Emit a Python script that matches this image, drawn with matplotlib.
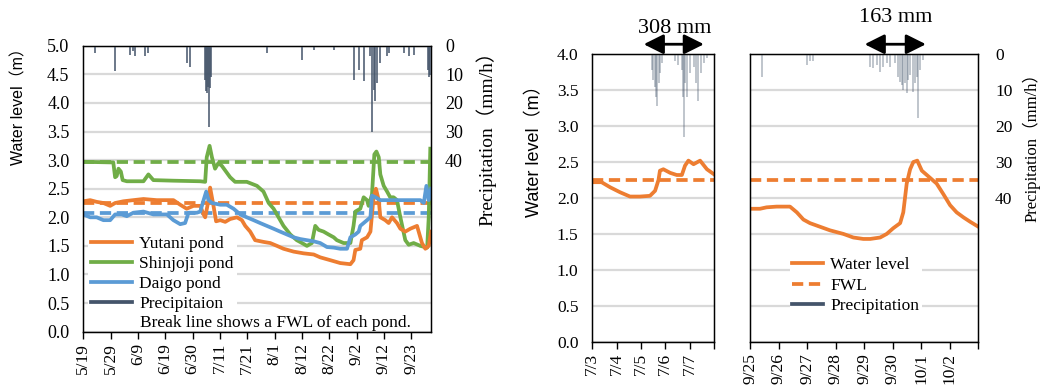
import matplotlib
matplotlib.use("Agg")
import matplotlib.pyplot as plt
from matplotlib.lines import Line2D
import numpy as np

plt.rcParams['font.family'] = ['Liberation Serif', 'Noto Sans CJK JP']
plt.rcParams['font.size'] = 12

# ---------- left panel: 5/19 - 9/30 (days from 5/19) ----------
yutani_x = [0, 2.6, 5.1, 7.7, 10.3, 12.2, 15.4, 19.2, 23.1, 28.2, 32.1, 34.6, 37.2, 39.7, 42.3, 44.9,
            46.2, 46.8, 48.1, 48.7, 50.0, 51.0, 52.6, 54.5, 56.4, 59.0, 60.9, 62.2, 64.1, 66.0, 69.2,
            71.8, 74.4, 76.9, 80.8, 84.6, 88.5, 91.0, 94.9, 98.7, 102.6, 103.8, 104.5, 106.4, 107.0,
            109.0, 110.3, 110.9, 111.5, 112.4, 113.5, 114.1, 116.0, 117.3, 118.6, 120.5, 121.8, 123.7,
            125.6, 128.2, 130.1, 131.4, 132.7, 133.6]
yutani_y = [2.28, 2.30, 2.27, 2.25, 2.20, 2.25, 2.28, 2.30, 2.32, 2.30, 2.30, 2.30, 2.22, 2.15, 2.20, 2.20,
            2.05, 2.00, 2.30, 2.52, 2.20, 1.93, 1.95, 1.92, 1.97, 2.00, 1.95, 1.85, 1.75, 1.60, 1.57,
            1.55, 1.50, 1.45, 1.40, 1.37, 1.35, 1.30, 1.25, 1.20, 1.18, 1.25, 1.43, 1.45, 1.60,
            1.65, 1.75, 2.05, 2.35, 2.50, 2.30, 2.00, 1.95, 1.90, 2.00, 1.90, 1.80, 1.75,
            1.80, 1.85, 1.55, 1.45, 1.50, 1.75]

shinjoji_x = [0, 10.3, 11.5, 12.2, 12.8, 13.5, 14.4, 15.1, 16.7, 23.1, 25.0, 26.9, 34.6, 44.9, 46.8, 47.4,
              48.5, 49.4, 50.6, 51.9, 53.2, 56.4, 58.3, 62.8, 66.7, 69.2, 71.2, 73.1, 75.0, 76.9, 79.5,
              82.0, 84.0, 85.9, 87.8, 89.1, 90.4, 92.3, 94.2, 96.2, 97.4, 100.0, 102.6, 103.8, 104.5,
              106.4, 107.7, 109.0, 109.6, 110.9, 111.8, 112.6, 113.5, 114.1, 115.4, 116.7, 117.9,
              119.2, 120.5, 121.8, 123.7, 125.0, 126.9, 129.5, 132.1, 132.7, 133.3]
shinjoji_y = [2.97, 2.96, 2.96, 2.70, 2.72, 2.85, 2.80, 2.65, 2.63, 2.63, 2.75, 2.65, 2.64, 2.63, 2.62, 3.05,
              3.25, 3.05, 2.85, 2.95, 2.90, 2.70, 2.62, 2.62, 2.55, 2.45, 2.25, 2.15, 2.00, 1.85, 1.70,
              1.60, 1.55, 1.50, 1.55, 1.85, 1.78, 1.75, 1.70, 1.65, 1.60, 1.55, 1.55, 1.85, 2.10,
              2.15, 2.35, 2.30, 2.20, 2.40, 3.10, 3.15, 3.05, 2.75, 2.55, 2.45, 2.35,
              2.35, 2.30, 2.00, 1.60, 1.52, 1.55, 1.50, 1.47, 2.00, 3.20]

daigo_x = [0, 2.6, 5.1, 7.7, 10.3, 12.2, 14.7, 16.7, 19.2, 23.1, 26.9, 32.1, 34.6, 37.2, 39.1, 40.4, 43.6,
           44.9, 46.2, 47.2, 48.1, 49.4, 52.6, 55.1, 57.7, 60.3, 62.8, 65.4, 67.9, 70.5, 73.1, 75.6,
           78.2, 80.8, 83.3, 85.9, 88.5, 91.0, 93.6, 96.2, 98.7, 101.3, 102.6, 104.5, 105.8, 106.4,
           109.0, 110.3, 110.9, 112.2, 114.1, 116.7, 129.5, 130.8, 131.8, 132.7, 133.6]
daigo_y = [2.05, 2.00, 2.00, 1.95, 1.95, 2.05, 2.05, 2.02, 2.08, 2.10, 2.05, 2.05, 1.95, 1.88, 1.90, 2.08, 2.08,
           2.10, 2.30, 2.45, 2.30, 2.25, 2.22, 2.22, 2.15, 2.05, 2.00, 1.95, 1.90, 1.85, 1.80, 1.75,
           1.70, 1.65, 1.62, 1.60, 1.58, 1.55, 1.48, 1.47, 1.45, 1.45, 1.65, 1.70, 1.75, 1.85,
           1.95, 2.00, 2.38, 2.35, 2.30, 2.30, 2.30, 2.25, 2.55, 2.30, 2.50]

fwl_yutani = 2.25
fwl_shinjoji = 2.96
fwl_daigo = 2.07

rain_left_x = [4.5, 12.2, 17.9, 19.2, 19.9, 23.7, 25.0, 39.7, 41.0, 46.8, 47.2, 47.4, 47.8, 48.1, 48.5, 49.0,
               70.5, 84.0, 88.5, 96.2, 103.8, 105.8, 107.7, 110.3, 110.9, 111.5, 112.2, 112.8, 114.1,
               116.7, 117.3, 123.1, 125.0, 126.9, 132.3, 132.8, 133.3]
rain_left_y = [2.6, 9.0, 3.2, 2.0, 3.7, 3.7, 2.6, 6.1, 7.3, 11.9, 16.0, 16.6, 14.3, 28.3, 14.9, 10.8,
               2.6, 4.9, 1.4, 1.4, 11.9, 8.4, 12.5, 3.7, 30.0, 15.4, 19.5, 13.1, 6.1,
               3.7, 2.6, 2.6, 3.7, 3.2, 8.4, 10.8, 10.2]

left_ticks = ["5/19", "5/29", "6/9", "6/19", "6/30", "7/11", "7/21", "8/1", "8/12", "8/22", "9/2",
              "9/12", "9/23"]

# ---------- middle panel: 7/3 - 7/8 ----------
jul_x = [0, 0.38, 0.73, 1.14, 1.55, 1.96, 2.37, 2.58, 2.72, 2.78, 2.92, 3.2, 3.47, 3.68, 3.81, 3.95,
         4.16, 4.43, 4.71, 5.0]
jul_level = [2.22, 2.22, 2.15, 2.08, 2.02, 2.02, 2.03, 2.10, 2.25, 2.38, 2.40, 2.35, 2.32, 2.32, 2.45, 2.52,
             2.47, 2.52, 2.40, 2.33]
jul_rain_x = [2.44, 2.51, 2.58, 2.62, 2.67, 2.73, 2.78, 2.85, 3.40, 3.54, 3.68, 3.74, 3.77, 3.81, 3.91,
              4.02, 4.16, 4.27, 4.36, 4.46, 4.57, 4.71]
jul_rain = [4.4, 7.1, 9.0, 11.8, 14.4, 8.1, 5.3, 2.5, 2.0, 3.0, 4.4, 11.8, 22.9, 8.1, 11.8,
            5.3, 3.4, 8.1, 13.1, 5.3, 2.5, 1.1]
jul_ticks = ["7/3", "7/4", "7/5", "7/6", "7/7", ""]

# ---------- right panel: 9/25 - 10/3 ----------
sep_x = [0, 0.35, 0.58, 0.93, 1.40, 1.64, 1.87, 2.10, 2.45, 2.80, 3.27, 3.62, 3.97, 4.21, 4.56, 4.79,
         5.02, 5.26, 5.37, 5.49, 5.61, 5.72, 5.86, 6.02, 6.31, 6.54, 6.78, 7.01, 7.24, 7.48, 7.71, 8.0]
sep_level = [1.85, 1.85, 1.87, 1.88, 1.88, 1.80, 1.70, 1.65, 1.60, 1.55, 1.50, 1.45, 1.43, 1.43, 1.45, 1.50,
             1.58, 1.65, 1.80, 2.20, 2.40, 2.50, 2.52, 2.38, 2.28, 2.20, 2.05, 1.90, 1.80, 1.73, 1.67, 1.60]
sep_rain_x = [0.41, 1.99, 2.10, 2.22, 4.21, 4.32, 4.44, 4.56, 4.67, 4.79, 4.91, 5.08, 5.20, 5.26, 5.32,
              5.37, 5.43, 5.49, 5.55, 5.61, 5.72, 5.78, 5.84, 5.90, 5.96, 6.07]
sep_rain = [6.2, 3.0, 2.0, 2.0, 3.4, 3.9, 3.0, 4.8, 3.4, 2.5, 3.4, 2.5, 6.2, 7.6, 8.5,
            9.9, 8.1, 10.8, 7.1, 5.7, 10.4, 8.1, 6.2, 17.8, 4.4, 1.6]
sep_ticks = ["9/25", "9/26", "9/27", "9/28", "9/29", "9/30", "10/1", "10/2", ""]

fwl_yutani_event = 2.25

ORANGE = "#ED7D31"
GREEN = "#70AD47"
BLUE = "#5B9BD5"
RAIN = "#44546A"
GRID = "#D9D9D9"
LW = 2.7
DASH = (3.0, 1.5)

fig = plt.figure(figsize=(10.42, 3.87), dpi=100)


def style_axes(ax, ymax):
    ax.set_ylim(0, ymax)
    ax.set_yticks(np.arange(0, ymax + 0.01, 0.5))
    ax.yaxis.grid(True, color=GRID, linewidth=1.6)
    ax.set_axisbelow(True)
    ax.tick_params(axis="y", length=0, pad=10)
    ax.tick_params(axis="x", length=5, width=1, pad=3, rotation=90, direction="out")
    for s in ax.spines.values():
        s.set_color("black")
        s.set_linewidth(1)


# left
ax1 = fig.add_axes([0.0800, 0.1429, 0.3337, 0.7390])
style_axes(ax1, 5.0)
ax1.set_yticklabels([f"{v:.1f}" for v in np.arange(0, 5.01, 0.5)], fontsize=13)
ax1.set_xlim(0, 133.6)
ax1.set_xticks(np.arange(len(left_ticks)) * 10.5)
ax1.set_xticklabels(left_ticks, fontsize=12.5)
ax1.axhline(fwl_shinjoji, color=GREEN, lw=LW, dashes=DASH)
ax1.axhline(fwl_yutani, color=ORANGE, lw=LW, dashes=DASH)
ax1.axhline(fwl_daigo, color=BLUE, lw=LW, dashes=DASH)
ax1.plot(shinjoji_x, shinjoji_y, color=GREEN, lw=LW)
ax1.plot(yutani_x, yutani_y, color=ORANGE, lw=LW)
ax1.plot(daigo_x, daigo_y, color=BLUE, lw=LW)

ax1r = ax1.twinx()
ax1r.set_ylim(100, 0)
ax1r.set_yticks([0, 10, 20, 30, 40])
ax1r.tick_params(axis="y", length=0, pad=10, labelsize=13)
ax1r.vlines(rain_left_x, 0, rain_left_y, color=RAIN, lw=1.1)
for s in ax1r.spines.values():
    s.set_color("black")

handles = [Line2D([], [], color=ORANGE, lw=LW), Line2D([], [], color=GREEN, lw=LW),
           Line2D([], [], color=BLUE, lw=LW), Line2D([], [], color=RAIN, lw=LW)]
leg = ax1r.legend(handles, ["Yutani pond", "Shinjoji pond", "Daigo pond", "Precipitaion"],
                  loc="upper left", bbox_to_anchor=(0.014, 0.345), borderaxespad=0, frameon=True,
                  facecolor="white", edgecolor="none", framealpha=1, fontsize=12.5,
                  handlelength=2.4, handletextpad=0.4, labelspacing=0.235, borderpad=0.15)
ax1r.text(0.163, 0.03, "Break line shows a FWL of each pond.", transform=ax1.transAxes,
          fontsize=12.5, va="center", ha="left", zorder=10)

fig.text(0.018, 0.735, "Water level（m）", rotation=90, ha="center", va="center", fontsize=11.5,
         family=["Liberation Sans", "Noto Sans CJK JP"])
fig.text(0.466, 0.655, "Precipitation（mm/h）", rotation=90, ha="center", va="center", fontsize=14)

# middle
ax2 = fig.add_axes([0.5684, 0.1171, 0.1168, 0.7426])
style_axes(ax2, 4.0)
ax2.set_yticklabels([f"{v:.1f}" for v in np.arange(0, 4.01, 0.5)], fontsize=12.5)
ax2.set_xlim(0, 5)
ax2.set_xticks(np.arange(len(jul_ticks)))
ax2.set_xticklabels(jul_ticks, fontsize=12.5)
ax2.axhline(fwl_yutani_event, color=ORANGE, lw=LW, dashes=DASH)
ax2.plot(jul_x, jul_level, color=ORANGE, lw=LW)
ax2r = ax2.twinx()
ax2r.set_ylim(80, 0)
ax2r.set_yticks([])
ax2r.vlines(jul_rain_x, 0, jul_rain, color=RAIN, alpha=0.4, lw=1.2)
ax2r.annotate("", xy=(2.0, 1.035), xytext=(4.7, 1.035), xycoords=ax2.get_xaxis_transform(),
              arrowprops=dict(arrowstyle="<|-|>", color="black", lw=2, mutation_scale=30),
              annotation_clip=False)
ax2r.text(3.4, 1.09, "308 mm", transform=ax2.get_xaxis_transform(), ha="center", va="center",
          fontsize=16)
fig.text(0.513, 0.62, "Water level（m）", rotation=90, ha="center", va="center", fontsize=13,
         family=["Liberation Sans", "Noto Sans CJK JP"])

# right
ax3 = fig.add_axes([0.7198, 0.1171, 0.2191, 0.7426])
style_axes(ax3, 4.0)
ax3.set_yticklabels([])
ax3.set_xlim(0, 8)
ax3.set_xticks(np.arange(len(sep_ticks)))
ax3.set_xticklabels(sep_ticks, fontsize=12.5)
ax3.axhline(fwl_yutani_event, color=ORANGE, lw=LW, dashes=DASH)
ax3.plot(sep_x, sep_level, color=ORANGE, lw=LW)
ax3r = ax3.twinx()
ax3r.set_ylim(80, 0)
ax3r.set_yticks([0, 10, 20, 30, 40])
ax3r.tick_params(axis="y", length=0, pad=12, labelsize=12.5)
ax3r.vlines(sep_rain_x, 0, sep_rain, color=RAIN, alpha=0.4, lw=1.2)
ax3r.annotate("", xy=(3.92, 1.035), xytext=(6.26, 1.035), xycoords=ax3.get_xaxis_transform(),
              arrowprops=dict(arrowstyle="<|-|>", color="black", lw=2, mutation_scale=30),
              annotation_clip=False)
ax3r.text(5.1, 1.128, "163 mm", transform=ax3.get_xaxis_transform(), ha="center", va="center",
          fontsize=16)
handles2 = [Line2D([], [], color=ORANGE, lw=LW), Line2D([], [], color=ORANGE, lw=LW, dashes=DASH),
            Line2D([], [], color=RAIN, lw=LW)]
ax3r.legend(handles2, ["Water level", "FWL", "Precipitation"], loc="upper left",
            bbox_to_anchor=(0.173, 0.303), borderaxespad=0, frameon=True, facecolor="white",
            edgecolor="none", framealpha=1, fontsize=12.5, handlelength=1.8, handletextpad=0.4,
            labelspacing=0.235, borderpad=0.15)
fig.text(0.990, 0.63, "Precipitation（mm/h）", rotation=90, ha="center", va="center", fontsize=12)

fig.savefig("out.png", dpi=100)
